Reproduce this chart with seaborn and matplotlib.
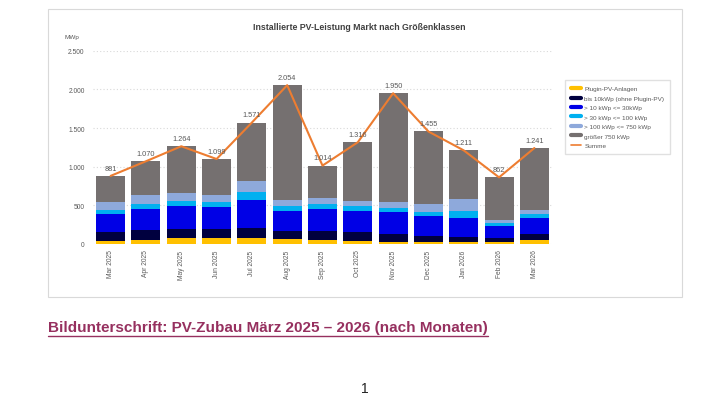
import numpy as np
import matplotlib.pyplot as plt
import seaborn as sns
from matplotlib.lines import Line2D
from matplotlib.patches import Rectangle
from matplotlib.ticker import FuncFormatter

# Data (MWp per month)
months = ["Mar 2025", "Apr 2025", "May 2025", "Jun 2025", "Jul 2025", "Aug 2025", "Sep 2025",
          "Oct 2025", "Nov 2025", "Dec 2025", "Jan 2026", "Feb 2026", "Mar 2026"]
plugin = [35, 56, 73, 73, 73, 65, 56, 34, 30, 26, 26, 26, 56]
bis_10 = [115, 120, 125, 121, 138, 107, 116, 116, 103, 77, 69, 56, 73]
kw_10_30 = [241, 280, 292, 283, 361, 258, 280, 280, 275, 254, 240, 146, 206]
kw_30_100 = [52, 56, 65, 61, 95, 56, 64, 56, 56, 51, 91, 43, 48]
kw_100_750 = [94, 116, 99, 94, 154, 86, 77, 73, 73, 108, 154, 39, 51]
gt_750 = [344, 442, 610, 467, 750, 1482, 421, 757, 1413, 939, 631, 552, 807]
summe = [881, 1070, 1264, 1099, 1571, 2054, 1014, 1316, 1950, 1455, 1211, 862, 1241]

labels = ["Plugin-PV-Anlagen", "bis 10kWp (ohne Plugin-PV)", "> 10 kWp <= 30kWp",
          "> 30 kWp <= 100 kWp", "> 100 kWp <= 750 kWp", "größer 750 kWp"]
colors = ["#FFC000", "#00003F", "#0000E6", "#00B0F0", "#8EA9DB", "#757070"]
orange = "#ED7D31"

sns.set_style("white")
plt.rcParams['font.family'] = ['Liberation Sans', 'DejaVu Sans']

W, H = 728, 410
fig = plt.figure(figsize=(W / 100, H / 100), dpi=100)

# chart panel border
fig.add_artist(Rectangle((48 / W, 1 - 298 / H), (682 - 48) / W, (298 - 10) / H,
                         transform=fig.transFigure, fill=False, ec="#D9D9D9", lw=0.8))

ax = fig.add_axes([93 / W, 1 - 245 / H, (552 - 93) / W, (245 - 51.7) / H])

# stacked bars: draw cumulative heights from the top down
series = [plugin, bis_10, kw_10_30, kw_30_100, kw_100_750, gt_750]
cum = np.cumsum(np.array(series), axis=0)
for k in range(len(series) - 1, -1, -1):
    sns.barplot(x=months, y=cum[k], color=colors[k], width=0.82, saturation=1,
                errorbar=None, edgecolor="none", ax=ax)

sns.pointplot(x=months, y=summe, color=orange, markers="", linewidth=1.5,
              errorbar=None, ax=ax)

for i, v in enumerate(summe):
    ax.annotate(f"{v:,}".replace(",", "."), (i, v), xytext=(0, 3), textcoords="offset points",
                ha="center", va="bottom", fontsize=5.3, color="#595959")

ax.set_ylim(0, 2500)
ax.set_xlim(-0.5, 12.5)
ax.set_yticks(range(0, 2501, 500))
ax.yaxis.set_major_formatter(FuncFormatter(lambda v, p: f"{v:,.0f}".replace(",", ".")))
ax.grid(axis="y", color="#D9D9D9", linestyle=(0, (1, 2)), lw=0.8)
ax.set_axisbelow(True)
ax.tick_params(axis="y", length=0, labelsize=4.8, labelcolor="#595959", pad=6)
ax.tick_params(axis="x", length=0, labelsize=4.8, labelcolor="#595959", labelrotation=90, pad=4)
ax.set_xlabel("")
ax.set_ylabel("")
sns.despine(ax=ax, left=True, bottom=True)

handles = [Line2D([], [], color=c, lw=3) for c in colors] + [Line2D([], [], color=orange, lw=1.2)]
fig.legend(handles, labels + ["Summe"], loc="upper left",
           bbox_to_anchor=(562 / W, 1 - 78 / H), bbox_transform=fig.transFigure,
           fontsize=4.6, labelcolor="#595959", frameon=True, fancybox=False,
           edgecolor="#D9D9D9", handlelength=1.5, labelspacing=0.62, borderpad=0.9,
           handletextpad=0.6)

fig.text(359 / W, 1 - 27 / H, "Installierte PV-Leistung Markt nach Größenklassen",
         ha="center", va="center", fontsize=6.3, fontweight="bold", color="#404040")
fig.text(72 / W, 1 - 38 / H, "MWp", ha="center", va="center", fontsize=4.6, color="#595959")

cap = fig.text(48 / W, 1 - 328 / H, "Bildunterschrift: PV-Zubau März 2025 – 2026 (nach Monaten)",
               ha="left", va="center", fontsize=11, fontweight="bold", color="#96305F",
               family=["Liberation Sans Narrow", "Liberation Sans"])
fig.text(365 / W, 1 - 389 / H, "1", ha="center", va="center", fontsize=10, color="#222222")

# underline the caption
fig.canvas.draw()
bb = cap.get_window_extent().transformed(fig.transFigure.inverted())
fig.add_artist(Line2D([bb.x0, bb.x1], [bb.y0 - 1.5 / H, bb.y0 - 1.5 / H],
                      transform=fig.transFigure, color="#96305F", lw=1.0))

fig.savefig("out.png", dpi=100, facecolor="white")
